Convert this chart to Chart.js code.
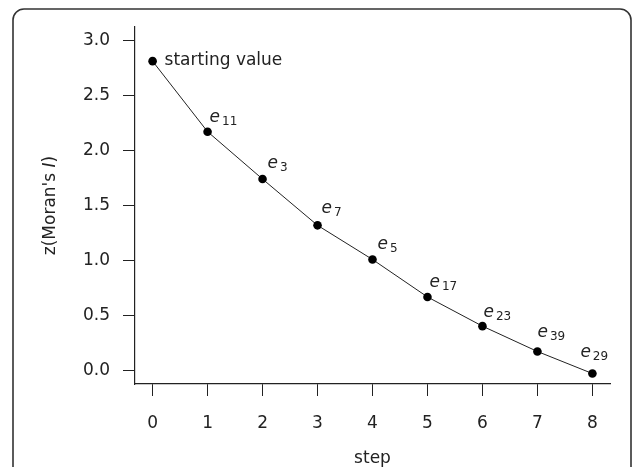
<!DOCTYPE html>
<html>
<head>
<meta charset="utf-8">
<script src="https://cdn.jsdelivr.net/npm/chart.js@4"></script>
<style>
html,body{margin:0;padding:0;background:#fff;}
#wrap{width:632px;height:467px;position:relative;}
</style>
</head>
<body>
<div id="wrap"><canvas id="c" width="632" height="467"></canvas></div>
<script>
// ---- data ----
const steps = [0, 1, 2, 3, 4, 5, 6, 7, 8];
const zValues = [2.81, 2.17, 1.74, 1.32, 1.01, 0.67, 0.405, 0.175, -0.025];
const pointNames = ["starting value", "11", "3", "7", "5", "17", "23", "39", "29"];
const xTicks = [0, 1, 2, 3, 4, 5, 6, 7, 8];
const yTicks = [0, 0.5, 1.0, 1.5, 2.0, 2.5, 3.0];
const xTitle = "step";

const FONT = "'DejaVu Sans', sans-serif";
const INK = '#222';

const framePlugin = {
  id: 'frame',
  beforeDraw(chart) {
    const ctx = chart.ctx;
    ctx.save();
    ctx.strokeStyle = '#333';
    ctx.lineWidth = 1.6;
    const x = 13, y = 9, w = 631 - 13, h = 520, r = 11;
    ctx.beginPath();
    ctx.moveTo(x, y + h);
    ctx.lineTo(x, y + r);
    ctx.arcTo(x, y, x + r, y, r);
    ctx.lineTo(x + w - r, y);
    ctx.arcTo(x + w, y, x + w, y + r, r);
    ctx.lineTo(x + w, y + h);
    ctx.stroke();
    ctx.restore();
  }
};

const labelPlugin = {
  id: 'pointLabels',
  afterDatasetsDraw(chart, args, opts) {
    const ctx = chart.ctx;
    const meta = chart.getDatasetMeta(0);
    ctx.save();
    ctx.fillStyle = INK;
    ctx.textBaseline = 'alphabetic';
    ctx.textAlign = 'left';
    meta.data.forEach((pt, i) => {
      const name = pointNames[i];
      const off = opts.offsets[i];
      if (i === 0) {
        ctx.font = "17px " + FONT;
        ctx.fillText(name, pt.x + off[0], pt.y + off[1]);
      } else {
        ctx.font = "italic 17px " + FONT;
        const bx = pt.x + off[0], by = pt.y + off[1];
        ctx.fillText('e', bx, by);
        const ew = ctx.measureText('e').width;
        ctx.font = "12px " + FONT;
        ctx.fillText(name, bx + ew + 2, by + 3);
      }
    });
    // y axis title with italic I
    const cy = (chart.chartArea.top + chart.chartArea.bottom) / 2;
    ctx.translate(opts.yTitleX, cy);
    ctx.rotate(-Math.PI / 2);
    const parts = [["z(Moran's ", "17px " + FONT], ["I", "italic 17px " + FONT], [")", "17px " + FONT]];
    let total = 0;
    parts.forEach(p => { ctx.font = p[1]; total += ctx.measureText(p[0]).width; });
    let cx = -total / 2;
    ctx.textBaseline = 'middle';
    parts.forEach(p => { ctx.font = p[1]; ctx.fillText(p[0], cx, 0); cx += ctx.measureText(p[0]).width; });
    ctx.restore();
  }
};

new Chart(document.getElementById('c'), {
  type: 'line',
  data: {
    datasets: [{
      data: steps.map((s, i) => ({ x: s, y: zValues[i] })),
      borderColor: INK,
      borderWidth: 1,
      pointBackgroundColor: '#000',
      pointBorderColor: '#000',
      pointRadius: 4.3,
      pointBorderWidth: 0,
      fill: false,
      tension: 0
    }]
  },
  plugins: [framePlugin, labelPlugin],
  options: {
    responsive: false,
    animation: false,
    events: [],
    layout: { padding: { left: 0, right: 22, top: 27, bottom: 0 } },
    plugins: {
      legend: { display: false },
      tooltip: { enabled: false },
      pointLabels: {
        yTitleX: 51,
        offsets: [[12, 4], [2, -10], [5, -11], [4, -12], [5, -10], [2, -10], [1, -9], [0, -14], [-12, -17]]
      }
    },
    scales: {
      x: {
        type: 'linear',
        min: -0.32,
        max: 8.32,
        afterBuildTicks: s => { s.ticks = xTicks.map(v => ({ value: v })); },
        afterFit: s => { s.height = 83; },
        grid: { display: true, drawOnChartArea: false, drawTicks: true, tickLength: 12, tickColor: INK, tickWidth: 1 },
        border: { display: true, color: INK, width: 1.2 },
        ticks: { color: INK, font: { family: FONT, size: 17 }, padding: 17, maxRotation: 0, autoSkip: false,
          callback: v => String(v) },
        title: { display: true, text: xTitle, color: INK, font: { family: FONT, size: 17 }, padding: { top: 0, bottom: -2 } }
      },
      y: {
        type: 'linear',
        min: -0.12,
        max: 3.12,
        afterBuildTicks: s => { s.ticks = yTicks.map(v => ({ value: v })); },
        afterFit: s => { s.width = 135; },
        grid: { display: true, drawOnChartArea: false, drawTicks: true, tickLength: 12, tickColor: INK, tickWidth: 1 },
        border: { display: true, color: INK, width: 1.2 },
        ticks: { color: INK, font: { family: FONT, size: 17 }, padding: 13, autoSkip: false,
          callback: v => Number(v).toFixed(1) }
      }
    }
  }
});
</script>
</body>
</html>
